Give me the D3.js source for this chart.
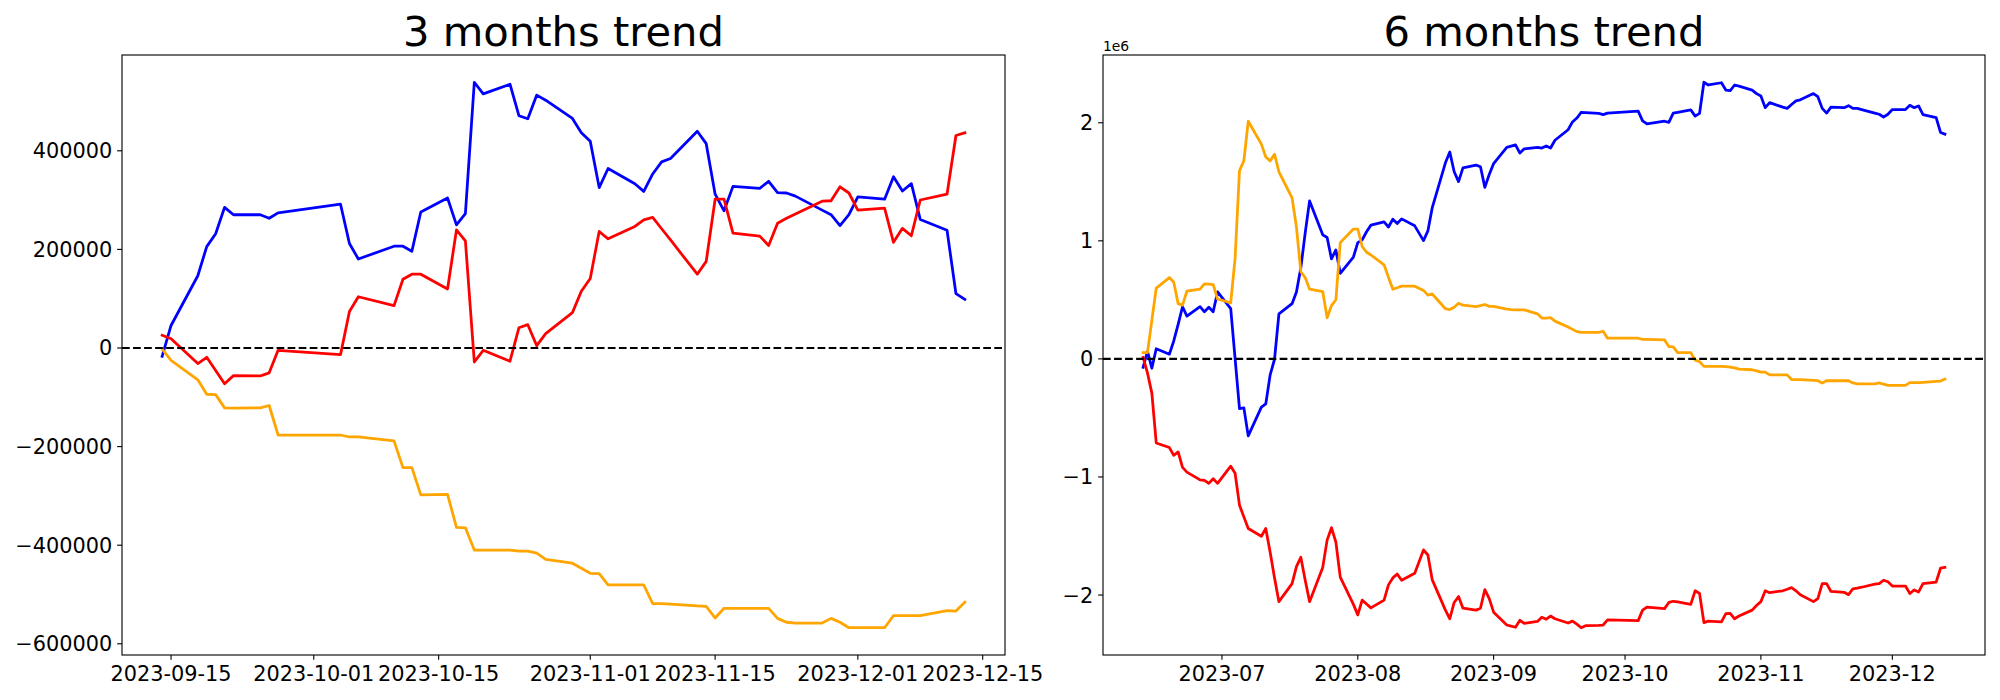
<!DOCTYPE html>
<html lang="en">
<head>
<meta charset="utf-8">
<title>Trend</title>
<script src="https://cdn.jsdelivr.net/npm/d3@7"></script>
<style>
  body { margin: 0; background: #fff; }
  svg { font-family: "DejaVu Sans", sans-serif; }
</style>
</head>
<body>
<script>
// trading days of the 3 month window
var dates3 = [
  "2023-09-14","2023-09-15","2023-09-18","2023-09-19","2023-09-20","2023-09-21","2023-09-22","2023-09-25","2023-09-26","2023-09-27",
  "2023-10-04","2023-10-05","2023-10-06","2023-10-10","2023-10-11","2023-10-12","2023-10-13","2023-10-16","2023-10-17","2023-10-18",
  "2023-10-19","2023-10-20","2023-10-23","2023-10-24","2023-10-25","2023-10-26","2023-10-27","2023-10-30","2023-10-31",
  "2023-11-01","2023-11-02","2023-11-03","2023-11-06","2023-11-07","2023-11-08","2023-11-09","2023-11-10","2023-11-13","2023-11-14",
  "2023-11-15","2023-11-16","2023-11-17","2023-11-20","2023-11-21","2023-11-22","2023-11-23","2023-11-24","2023-11-27","2023-11-28",
  "2023-11-29","2023-11-30","2023-12-01","2023-12-04","2023-12-05","2023-12-06","2023-12-07","2023-12-08","2023-12-11","2023-12-12","2023-12-13"
]
var blue3 = [
  -17000, 45700, 146600, 205700, 231700, 285300, 270300, 270300, 263200, 274200,
  291600, 212000, 180500, 206500, 206500, 196200, 275800, 304200, 249800, 272600,
  539000, 515400, 535000, 471200, 464900, 513000, 502700, 465700, 436600,
  419200, 325400, 364100, 333300, 317600, 353000, 377500, 384500, 439700, 414500,
  312000, 278200, 327800, 323900, 338100, 315200, 314400, 308100, 279700, 270300,
  248200, 270300, 306500, 301800, 347500, 318400, 333300, 260800, 238800, 110300, 98500
]
var red3 = [
  26000, 18900, -31500, -18900, -45700, -72500, -56000, -56700, -50400, -4700,
  -13400, 74100, 104000, 85900, 139500, 149700, 149700, 119800, 239600, 217500,
  -28400, -4700, -26800, 41000, 47300, 4700, 29200, 71700, 115000,
  141000, 236400, 221400, 246600, 260000, 264800, 241900, 219100, 149700, 175700,
  301800, 301800, 233200, 227000, 208000, 253000, 263200, 271900, 297900, 298700,
  327000, 314400, 279700, 283700, 214300, 242700, 227700, 300200, 312000, 431000, 436600
]
var orange3 = [
  -2000, -25200, -64600, -93800, -94600, -121400, -122100, -121400, -116600, -176500,
  -176500, -180500, -180500, -188300, -242700, -242700, -297900, -297100, -364000, -364800,
  -409800, -409800, -409800, -412100, -412100, -416100, -428700, -436600, -446800,
  -457000, -457800, -480700, -480700, -480700, -518500, -518500, -519300, -523200, -524000,
  -547700, -528000, -528000, -528000, -528000, -548400, -556300, -557900, -557900, -548400,
  -556300, -567400, -567400, -567400, -542900, -542900, -542900, -542900, -532700, -533500, -515400
]

// trading days of the 6 month window, values in millions
var dates6 = [
  "2023-06-13","2023-06-14","2023-06-15","2023-06-16","2023-06-19","2023-06-20","2023-06-21","2023-06-22","2023-06-23","2023-06-26",
  "2023-06-27","2023-06-28","2023-06-29","2023-06-30",
  "2023-07-03","2023-07-04","2023-07-05","2023-07-06","2023-07-07","2023-07-10","2023-07-11","2023-07-12","2023-07-13","2023-07-14",
  "2023-07-17","2023-07-18","2023-07-19","2023-07-20","2023-07-21","2023-07-24","2023-07-25","2023-07-26","2023-07-27","2023-07-28","2023-07-31",
  "2023-08-01","2023-08-02","2023-08-03","2023-08-04","2023-08-07","2023-08-08","2023-08-09","2023-08-10","2023-08-11","2023-08-14",
  "2023-08-16","2023-08-17","2023-08-18","2023-08-21","2023-08-22","2023-08-23","2023-08-24","2023-08-25","2023-08-28","2023-08-29",
  "2023-08-30","2023-08-31",
  "2023-09-01","2023-09-04","2023-09-05","2023-09-06","2023-09-07","2023-09-08","2023-09-11","2023-09-12","2023-09-13"
].concat(dates3)
var blue6 = [
  -0.072, 0.063, -0.079, 0.086, 0.040, 0.152, 0.293, 0.442, 0.362, 0.442,
  0.399, 0.438, 0.399, 0.567,
  0.425, 0.002, -0.422, -0.415, -0.652, -0.409, -0.382, -0.135, -0.003, 0.382,
  0.468, 0.567, 0.771, 1.068, 1.338, 1.051, 1.028, 0.847, 0.923, 0.725, 0.863,
  0.985, 1.008, 1.077, 1.133, 1.160, 1.117, 1.183, 1.147, 1.186, 1.127,
  1.002, 1.084, 1.282, 1.661, 1.753, 1.585, 1.502, 1.618, 1.641, 1.628,
  1.453, 1.562,
  1.654, 1.792, 1.802, 1.812, 1.743, 1.779, 1.792, 1.786, 1.804,
  1.786, 1.852, 1.941, 2.007, 2.040, 2.089, 2.086, 2.079, 2.069, 2.082,
  2.099, 2.016, 1.990, 2.013, 2.003, 2.082, 2.089, 2.109, 2.056, 2.079,
  2.343, 2.320, 2.339, 2.277, 2.273, 2.320, 2.310, 2.277, 2.247,
  2.227, 2.128, 2.171, 2.132, 2.122, 2.155, 2.185, 2.194, 2.247, 2.221,
  2.122, 2.082, 2.132, 2.128, 2.145, 2.122, 2.122, 2.112, 2.082, 2.072,
  2.049, 2.072, 2.112, 2.112, 2.148, 2.128, 2.142, 2.069, 2.043, 1.918, 1.904
]
var red6 = [
  0.013, -0.119, -0.290, -0.712, -0.751, -0.817, -0.788, -0.919, -0.959, -1.025,
  -1.028, -1.054, -1.015, -1.054,
  -0.909, -0.969, -1.239, -1.338, -1.437, -1.502, -1.437, -1.638, -1.855, -2.056,
  -1.904, -1.760, -1.680, -1.875, -2.056, -1.766, -1.535, -1.430, -1.552, -1.848, -2.079,
  -2.168, -2.043, -2.076, -2.109, -2.043, -1.914, -1.855, -1.822, -1.875, -1.815,
  -1.618, -1.661, -1.872, -2.128, -2.201, -2.063, -2.013, -2.112, -2.128, -2.112,
  -1.954, -2.030,
  -2.145, -2.254, -2.264, -2.273, -2.214, -2.241, -2.224, -2.188, -2.205,
  -2.178, -2.201, -2.237, -2.221, -2.247, -2.277, -2.260, -2.257, -2.254, -2.211,
  -2.217, -2.128, -2.102, -2.115, -2.063, -2.053, -2.059, -2.079, -1.964, -1.987,
  -2.234, -2.221, -2.227, -2.158, -2.155, -2.201, -2.178, -2.128, -2.089,
  -2.056, -1.964, -1.980, -1.964, -1.951, -1.937, -1.964, -1.997, -2.056, -2.030,
  -1.904, -1.904, -1.970, -1.977, -1.997, -1.947, -1.941, -1.934, -1.908, -1.904,
  -1.875, -1.888, -1.924, -1.924, -1.987, -1.957, -1.974, -1.904, -1.891, -1.773, -1.766
]
var orange6 = [
  0.053, 0.053, 0.326, 0.600, 0.689, 0.649, 0.468, 0.455, 0.573, 0.590,
  0.636, 0.633, 0.629, 0.507,
  0.474, 0.853, 1.595, 1.677, 2.013, 1.819, 1.710, 1.677, 1.733, 1.585,
  1.364, 1.117, 0.738, 0.689, 0.590, 0.570, 0.349, 0.451, 0.501, 0.985, 1.100,
  1.100, 0.952, 0.903, 0.880, 0.797, 0.692, 0.590, 0.603, 0.616, 0.616,
  0.580, 0.540, 0.550, 0.425, 0.418, 0.438, 0.471, 0.455, 0.442, 0.451,
  0.461, 0.445,
  0.445, 0.422, 0.418, 0.415, 0.415, 0.415, 0.382, 0.346, 0.346,
  0.349, 0.320, 0.270, 0.250, 0.231, 0.224, 0.224, 0.224, 0.234, 0.175,
  0.175, 0.165, 0.165, 0.161, 0.105, 0.102, 0.053, 0.053, -0.010, -0.023,
  -0.063, -0.063, -0.063, -0.066, -0.069, -0.076, -0.086, -0.092, -0.102,
  -0.112, -0.112, -0.135, -0.135, -0.135, -0.175, -0.175, -0.175, -0.181, -0.185,
  -0.204, -0.185, -0.185, -0.185, -0.185, -0.204, -0.211, -0.211, -0.211, -0.204,
  -0.214, -0.224, -0.224, -0.224, -0.201, -0.201, -0.201, -0.198, -0.191, -0.188, -0.171
]

var xticks3 = ["2023-09-15","2023-10-01","2023-10-15","2023-11-01","2023-11-15","2023-12-01","2023-12-15"]
var xticks6 = ["2023-07-01","2023-08-01","2023-09-01","2023-10-01","2023-11-01","2023-12-01"]
var yticks3 = [-600000, -400000, -200000, 0, 200000, 400000]
var yticks6 = [-2, -1, 0, 1, 2]

var seriesColors = ["blue", "red", "orange"]

var W = 2000, H = 700
var plotTop = 55, plotBottom = 655
var px = 100 / 72   // matplotlib points -> px at dpi 100
var parse = d3.timeParse("%Y-%m-%d")

var svg = d3.select("body").append("svg")
  .attr("width", W)
  .attr("height", H)

function padded(ext) {
  var r = ext[1] - ext[0]
  return [ext[0] - 0.05 * r, ext[1] + 0.05 * r]
}

function minus(s) { return String(s).replace("-", "\u2212") }

var million = function (a) { return a.map(function (v) { return v * 1e6 }) }

var panels = [
  { title: "3 months trend", left: 122, right: 1005, dates: dates3,
    series: [blue3, red3, orange3], xticks: xticks3, xfmt: d3.timeFormat("%Y-%m-%d"),
    yticks: yticks3, yunit: 1, offset: null },
  { title: "6 months trend", left: 1103, right: 1985, dates: dates6,
    series: [million(blue6), million(red6), million(orange6)], xticks: xticks6, xfmt: d3.timeFormat("%Y-%m"),
    yticks: yticks6, yunit: 1e6, offset: "1e6" }
]

panels.forEach(drawPanel)

function drawPanel(p) {
  var t = p.dates.map(parse)
  var tx = padded([+t[0], +t[t.length - 1]])
  var x = d3.scaleTime().domain([new Date(tx[0]), new Date(tx[1])]).range([p.left, p.right])

  var all = [].concat.apply([], p.series)
  var y = d3.scaleLinear().domain(padded(d3.extent(all))).range([plotBottom, plotTop])

  var g = svg.append("g")

  var line = d3.line()
    .x(function (d, i) { return x(t[i]) })
    .y(function (d) { return y(d) })

  p.series.forEach(function (s, k) {
    g.append("path")
      .datum(s)
      .attr("d", line)
      .attr("fill", "none")
      .attr("stroke", seriesColors[k])
      .attr("stroke-width", 2 * px)
      .attr("stroke-linejoin", "round")
      .attr("stroke-linecap", "square")
  })

  // zero reference line
  g.append("line")
    .attr("x1", p.left).attr("x2", p.right)
    .attr("y1", y(0)).attr("y2", y(0))
    .attr("stroke", "black")
    .attr("stroke-width", 1.5 * px)
    .attr("stroke-dasharray", (3.7 * 1.5 * px) + "," + (1.6 * 1.5 * px))

  // frame
  g.append("rect")
    .attr("x", p.left).attr("y", plotTop)
    .attr("width", p.right - p.left).attr("height", plotBottom - plotTop)
    .attr("fill", "none")
    .attr("stroke", "black")
    .attr("stroke-width", 0.8 * px)

  var tickLen = 3.5 * px, tickPad = 3.5 * px, fs = 15 * px

  // x ticks
  p.xticks.forEach(function (s) {
    var d = parse(s), xx = x(d)
    g.append("line")
      .attr("x1", xx).attr("x2", xx)
      .attr("y1", plotBottom).attr("y2", plotBottom + tickLen)
      .attr("stroke", "black").attr("stroke-width", 0.8 * px)
    g.append("text")
      .attr("x", xx)
      .attr("y", plotBottom + tickLen + tickPad + fs * 0.76)
      .attr("text-anchor", "middle")
      .attr("font-size", fs)
      .text(p.xfmt(d))
  })

  // y ticks
  p.yticks.forEach(function (v) {
    var yy = y(v * p.yunit)
    g.append("line")
      .attr("x1", p.left - tickLen).attr("x2", p.left)
      .attr("y1", yy).attr("y2", yy)
      .attr("stroke", "black").attr("stroke-width", 0.8 * px)
    g.append("text")
      .attr("x", p.left - tickLen - tickPad)
      .attr("y", yy + fs * 0.36)
      .attr("text-anchor", "end")
      .attr("font-size", fs)
      .text(minus(v))
  })

  if (p.offset) {
    g.append("text")
      .attr("x", p.left)
      .attr("y", plotTop - 4)
      .attr("font-size", 10 * px)
      .text(p.offset)
  }

  g.append("text")
    .attr("x", (p.left + p.right) / 2)
    .attr("y", plotTop - 6 * px - 0.3)
    .attr("text-anchor", "middle")
    .attr("font-size", 30 * px)
    .text(p.title)
}
</script>
</body>
</html>
